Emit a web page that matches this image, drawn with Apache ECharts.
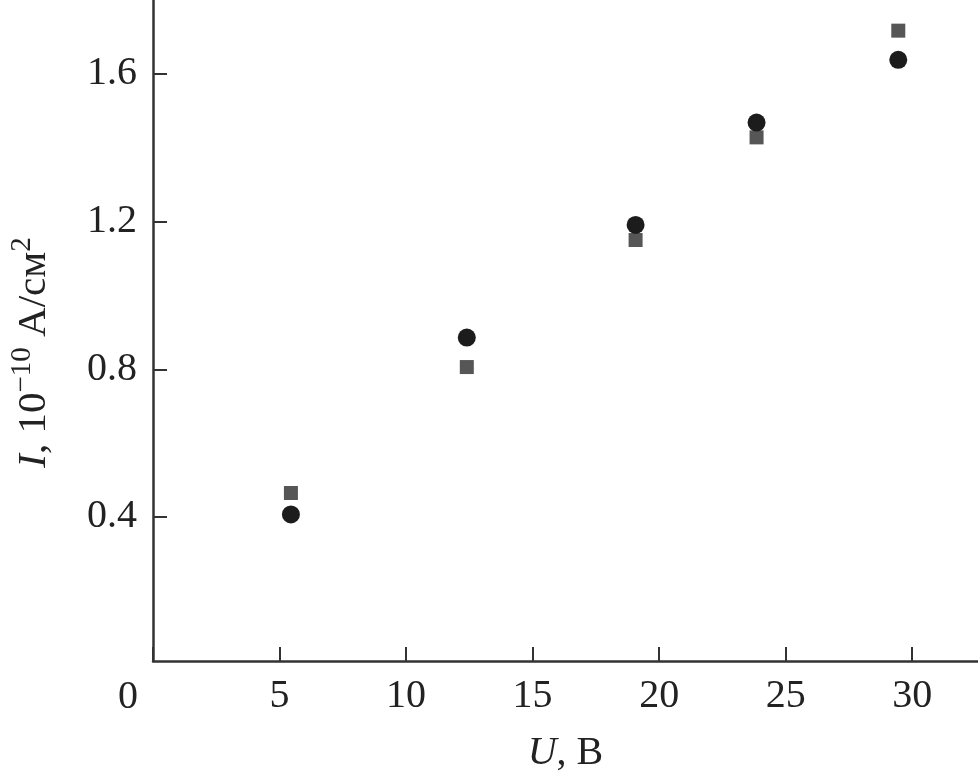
<!DOCTYPE html>
<html>
<head>
<meta charset="utf-8">
<script src="https://cdn.jsdelivr.net/npm/echarts@6/dist/echarts.min.js"></script>
<style>html,body{margin:0;padding:0;background:#fff}#c{width:978px;height:773px}</style>
</head>
<body>
<div id="c"></div>
<script>
const squareU = [5.45, 12.4, 19.07, 23.85, 29.45];
const squareI = [0.465, 0.806, 1.150, 1.428, 1.717];
const circleU = [5.45, 12.4, 19.07, 23.85, 29.45];
const circleI = [0.407, 0.886, 1.191, 1.468, 1.638];
const xTicks = [0, 5, 10, 15, 20, 25, 30];
const yTicks = [0.4, 0.8, 1.2, 1.6];

const font = '"Liberation Serif", "Times New Roman", Times, serif';
const chart = echarts.init(document.getElementById('c'));
chart.setOption({
  animation: false,
  grid: {left: 153, top: 0, right: 0, bottom: 112, containLabel: false, outerBoundsMode: 'none'},
  xAxis: {
    type: 'value', min: 0, max: 32.6,
    axisLine: {show: true, lineStyle: {color: '#333', width: 2.5}},
    axisTick: {show: true, inside: true, length: 14, lineStyle: {color: '#333', width: 2}, customValues: xTicks},
    axisLabel: {fontFamily: font, fontSize: 40, color: '#222', margin: 15, customValues: xTicks,
      formatter: v => v === 0 ? '' : String(v)},
    splitLine: {show: false},
    name: '{i|U}, В', nameLocation: 'middle', nameGap: 72,
    nameTextStyle: {fontFamily: font, fontSize: 40, color: '#222',
      rich: {i: {fontFamily: font, fontSize: 40, fontStyle: 'italic', color: '#222'}}}
  },
  yAxis: {
    type: 'value', min: 0.01, max: 1.8,
    axisLine: {show: true, lineStyle: {color: '#333', width: 2.5}},
    axisTick: {show: true, inside: true, length: 14, lineStyle: {color: '#333', width: 2}, customValues: yTicks},
    axisLabel: {fontFamily: font, fontSize: 40, color: '#222', margin: 16, customValues: yTicks,
      formatter: v => v.toFixed(1)},
    splitLine: {show: false},
    name: '{i|I}, 10{s|−10} A/см{s|2}', nameLocation: 'middle', nameGap: 93,
    nameTextStyle: {fontFamily: font, fontSize: 41, color: '#222', lineHeight: 52, padding: [0, 44, 0, 0],
      rich: {
        i: {fontFamily: font, fontSize: 41, fontStyle: 'italic', color: '#222', lineHeight: 52},
        s: {fontFamily: font, fontSize: 29, color: '#222', verticalAlign: 'top', lineHeight: 52, padding: [0,0,20,0]}
      }}
  },
  graphic: [{type: 'text', left: 118, top: 677, style: {text: '0', fontFamily: font, fontSize: 40, fill: '#222'}}],
  series: [
    {type: 'scatter', symbol: 'rect', symbolSize: 14, itemStyle: {color: '#565656', opacity: 1},
     data: squareU.map((u, i) => [u, squareI[i]])},
    {type: 'scatter', symbol: 'circle', symbolSize: 18, itemStyle: {color: '#1c1c1c', opacity: 1},
     data: circleU.map((u, i) => [u, circleI[i]])}
  ]
});
</script>
</body>
</html>
